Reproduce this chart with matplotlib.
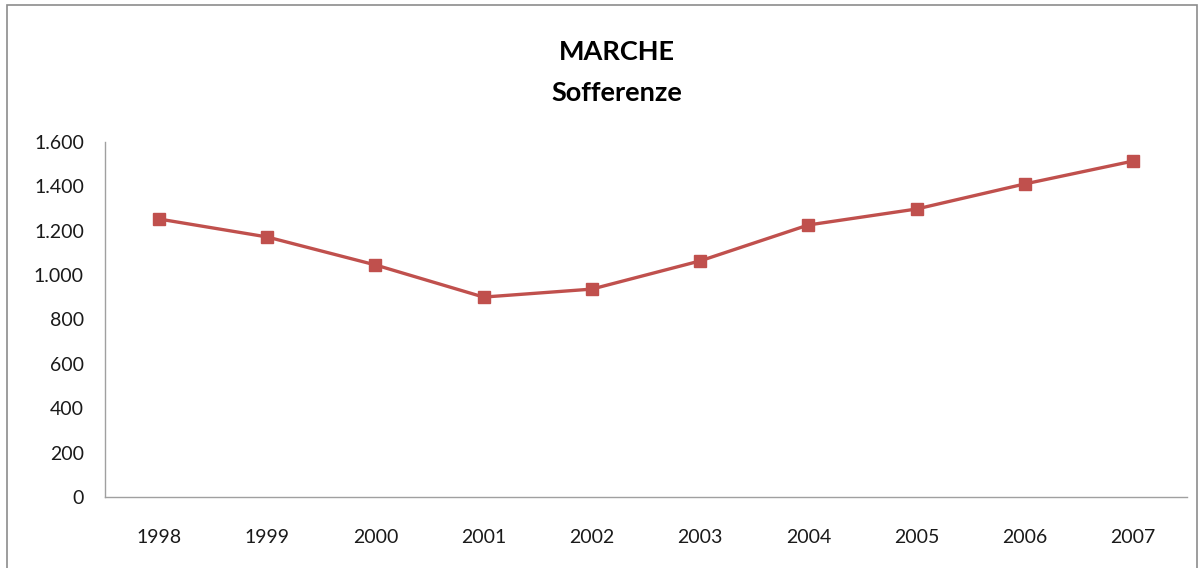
import matplotlib
matplotlib.use("Agg")
import matplotlib.pyplot as plt
from matplotlib.patches import Rectangle
from matplotlib.ticker import FuncFormatter

years = ["1998", "1999", "2000", "2001", "2002", "2003", "2004", "2005", "2006", "2007"]
sofferenze = [1253, 1172, 1046, 901, 937, 1064, 1226, 1298, 1411, 1514]
y_ticks = [0, 200, 400, 600, 800, 1000, 1200, 1400, 1600]

plt.rcParams["font.family"] = ["Lato", "DejaVu Sans"]

fig = plt.figure(figsize=(12.04, 5.68), dpi=100)
ax = fig.add_axes([0.087, 0.125, 0.899, 0.625])

# cornice esterna del grafico
fig.patches.append(Rectangle((0.006, -0.05), 0.988, 1.041, transform=fig.transFigure,
                             fill=False, edgecolor="#8c8c8c", linewidth=1.2))

x = list(range(len(years)))
ax.plot(x, sofferenze, color="#C0504D", linewidth=2.4, marker="s", markersize=8.5)

ax.set_xlim(-0.5, len(years) - 0.5)
ax.set_ylim(0, 1600)
ax.set_xticks(x)
ax.set_xticklabels(years)
ax.set_yticks(y_ticks)
ax.yaxis.set_major_formatter(FuncFormatter(lambda v, p: f"{int(v):,}".replace(",", ".")))
ax.tick_params(axis="both", length=0, labelsize=14, colors="#1a1a1a")
ax.tick_params(axis="x", pad=23)
ax.tick_params(axis="y", pad=15)

for side in ("top", "right"):
    ax.spines[side].set_visible(False)
for side in ("left", "bottom"):
    ax.spines[side].set_color("#a0a0a0")
    ax.spines[side].set_linewidth(1)

fig.text(0.512, 0.908, "MARCHE", ha="center", va="center", fontsize=19.5, fontweight="bold")
fig.text(0.512, 0.836, "Sofferenze", ha="center", va="center", fontsize=19.5, fontweight="bold")

fig.savefig("out.png", dpi=100)
